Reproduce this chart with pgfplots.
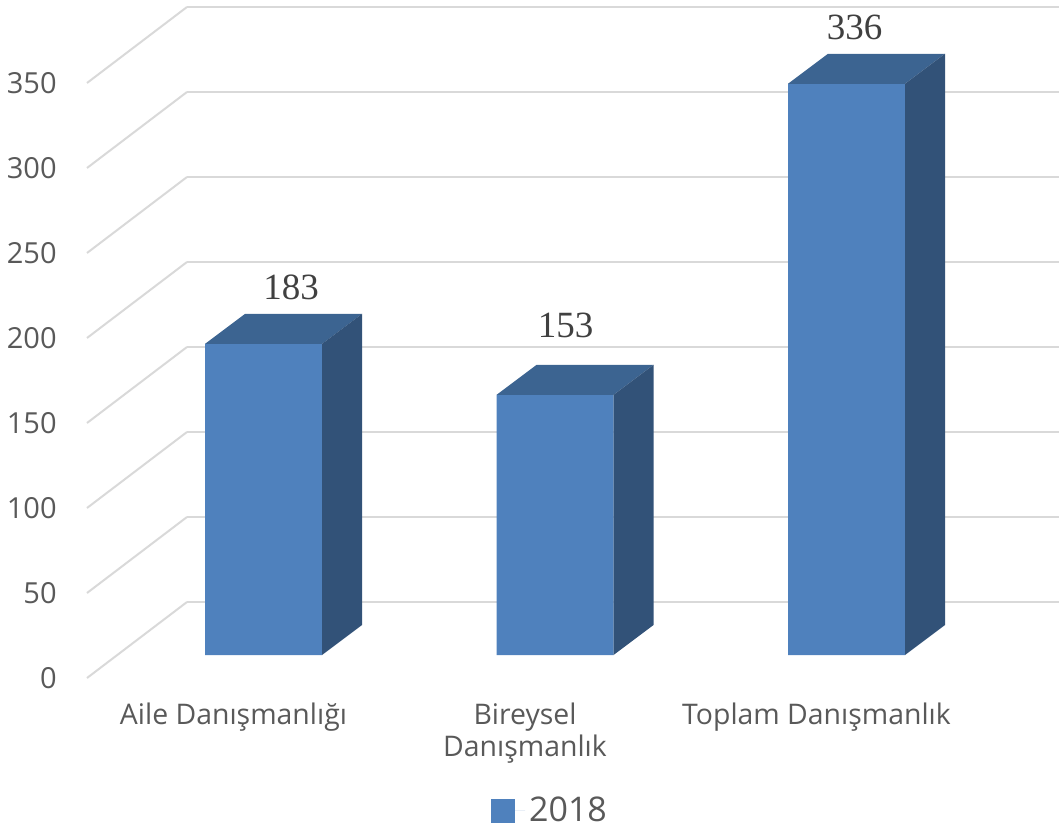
\documentclass[border=0pt]{standalone}
\usepackage{pgfplots}
\pgfplotsset{compat=1.18}
\usepackage{fontspec}
\setmainfont{Open Sans}
\newfontfamily\seriffont{Liberation Serif}
\definecolor{frontblue}{HTML}{4F81BD}
\definecolor{topblue}{HTML}{3C6491}
\definecolor{sideblue}{HTML}{325278}
\definecolor{gridgray}{HTML}{D9D9D9}
\definecolor{txtgray}{HTML}{595959}
\definecolor{lblgray}{HTML}{404040}

% top and side faces of a 3D bar; the mark sits at the top-centre of the front face
\pgfdeclareplotmark{bar3d}{%
  \pgfmathsetmacro\H{\barh*0.85}%
  \pgfsetfillcolor{topblue}%
  \pgfpathmoveto{\pgfpoint{-29.25pt}{0pt}}%
  \pgfpathlineto{\pgfpoint{29.25pt}{0pt}}%
  \pgfpathlineto{\pgfpoint{49.25pt}{15pt}}%
  \pgfpathlineto{\pgfpoint{-9.25pt}{15pt}}%
  \pgfpathclose\pgfusepath{fill}%
  \pgfsetfillcolor{sideblue}%
  \pgfpathmoveto{\pgfpoint{29.25pt}{0pt}}%
  \pgfpathlineto{\pgfpoint{49.25pt}{15pt}}%
  \pgfpathlineto{\pgfpoint{49.25pt}{15pt-\H pt}}%
  \pgfpathlineto{\pgfpoint{29.25pt}{-\H pt}}%
  \pgfpathclose\pgfusepath{fill}%
}

\begin{document}
\begin{tikzpicture}
\useasboundingbox (0,0) rectangle (529.5pt,415.5pt);
% back wall with grid and value labels
\begin{axis}[
  at={(93.5pt,114.5pt)}, anchor=south west,
  x=0.5pt, y=0.85pt,
  xmin=187, xmax=1059, ymin=0, ymax=350,
  enlargelimits=false,
  axis line style={draw=none},
  major tick length=0pt,
  xtick=\empty,
  ytick={0,50,...,350},
  ymajorgrids,
  major grid style={gridgray, line width=1pt},
  /pgf/number format/assume math mode=true,
  yticklabel style={anchor=east, inner sep=0pt, xshift=-65pt, yshift=-38pt,
    font=\fontsize{14.5}{17}\selectfont, text=txtgray},
  clip=false,
]
\addplot[draw=none] coordinates {(187,0)};
\pgfplotsinvokeforeach{0,50,...,350}{
  \draw[gridgray, line width=1pt] (axis cs:187,#1) -- ++(-50pt,-38pt);
}
\end{axis}
% bars
\begin{axis}[
  at={(44.3pt,88pt)}, anchor=south west,
  x=145.75pt, y=0.85pt,
  xmin=-0.6, xmax=2.6, ymin=0, ymax=350,
  enlargelimits=false,
  axis line style={draw=none},
  major tick length=0pt,
  ytick=\empty,
  xtick={0,1,2},
  xticklabels={Aile Danışmanlığı,{Bireysel\\Danışmanlık},Toplam Danışmanlık},
  xticklabel style={align=center, anchor=north, inner sep=0pt, xshift=-15pt, yshift=-24pt,
    font=\fontsize{14.2}{16}\selectfont, text=txtgray},
  clip=false,
  legend style={at={(0.4957,-0.262)}, anchor=center, draw=none, fill=none,
    font=\fontsize{17}{20}\selectfont, text=txtgray},
]
\addplot[ybar, bar width=58.5pt, bar shift=0pt, fill=frontblue, draw=none,
  legend image code/.code={\fill[frontblue] (0pt,-6pt) rectangle (12pt,6pt);
    \path (0pt,0pt) -- (17pt,0pt);}]
  table {
x y
0 183
1 153
2 336
};
\addlegendentry{2018}
\addplot[scatter, only marks, mark=bar3d, forget plot,
  scatter/@pre marker code/.code={\pgfscope},
  scatter/@post marker code/.code={\endpgfscope},
  visualization depends on={value \thisrow{y}\as\barh},
  visualization depends on={value \thisrow{lx}\as\lblx},
  visualization depends on={value \thisrow{ly}\as\lbly},
  nodes near coords={\barh},
  every node near coord/.append style={anchor=center, inner sep=0pt,
    xshift=\lblx pt, yshift=\lbly pt,
    font=\seriffont\fontsize{18.5}{20}\selectfont, text=lblgray},
] table {
x y lx ly
0 183 13.75 28.5
1 153 5.25 34.75
2 336 4 28.25
};
\end{axis}
\end{tikzpicture}
\end{document}
